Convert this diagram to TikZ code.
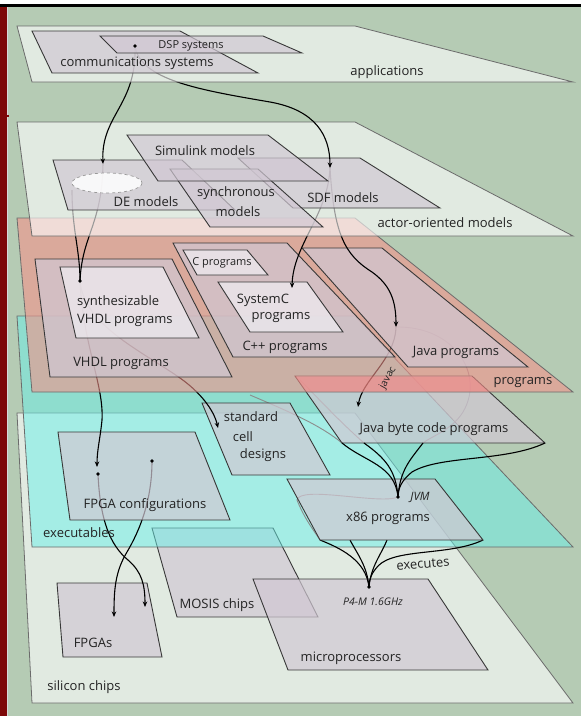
\documentclass[tikz,border=0pt]{standalone}
\usepackage{fontspec}
\setmainfont{Open Sans}
\usetikzlibrary{arrows.meta}

\definecolor{bggreen}{RGB}{181,203,180}
\definecolor{planepink}{RGB}{243,147,139}
\definecolor{planecyan}{RGB}{105,240,233}
\definecolor{boxgray}{RGB}{209,200,211}
\definecolor{boxlight}{RGB}{238,235,240}
\definecolor{salmon}{RGB}{240,120,120}
\definecolor{ink}{RGB}{35,35,35}
\definecolor{framered}{RGB}{125,8,8}

\tikzset{
  plane/.style={draw=black!58, line width=0.8pt},
  lightplane/.style={plane, fill=white, fill opacity=0.6},
  pinkplane/.style={plane, fill=planepink, fill opacity=0.6},
  cyanplane/.style={plane, fill=planecyan, fill opacity=0.5},
  box/.style={draw=black!78, line width=0.9pt, fill=boxgray, fill opacity=0.7},
  innerbox/.style={box, fill=boxlight, fill opacity=0.75},
  conn/.style={line width=1.1pt, draw=black},
  faint/.style={line width=0.9pt, draw=black!45},
  tip/.style={-{Stealth[length=5.5pt,width=4.5pt]}},
  lbl/.style={text=ink, inner sep=0pt, font=\fontsize{13}{15}\selectfont},
  smalllbl/.style={lbl, font=\fontsize{11}{13}\selectfont},
  itlbl/.style={lbl, font=\fontsize{11.5}{13}\selectfont\itshape},
}

\begin{document}
\begin{tikzpicture}[x=1pt, y=-1pt]
\useasboundingbox (0,0) rectangle (581,716);

% frame and backdrop
\fill[white] (0,0) rectangle (581,4);
\fill[bggreen] (0,7) rectangle (581,716);
\fill[black] (0,4) rectangle (581,7);
\fill[framered] (0,7) rectangle (7,716);
\fill[black!15] (7,7) rectangle (8.2,716);
\fill[framered] (0,114.5) rectangle (9,117);

% connector end points
\coordinate (dsp) at (135,46);
\coordinate (deTip) at (103,164);
\coordinate (deEll) at (72,190);
\coordinate (sdfTip) at (330,168);
\coordinate (synthDot) at (80,281);
\coordinate (scTip) at (292,288);
\coordinate (javaTip) at (396,327);
\coordinate (bcTip) at (358,407);
\coordinate (sdTip) at (218,428);
\coordinate (fcTip) at (97,467);
\coordinate (fcDotA) at (98,474);
\coordinate (fcDotB) at (152,461);
\coordinate (fpgaTipA) at (145,607);
\coordinate (fpgaTipB) at (114,617);
\coordinate (jvm) at (398,497);
\coordinate (p4) at (369,587);
\coordinate (bcA) at (342,443);
\coordinate (bcB) at (364,443);
\coordinate (bcC) at (423,443);
\coordinate (bcD) at (545,443);
\coordinate (xA) at (320,540);
\coordinate (xB) at (350,540);
\coordinate (xC) at (387,540);
\coordinate (xD) at (483,540);

% ---------------- silicon chips ----------------
\draw[lightplane] (17,413) -- (355,413) -- (573,703) -- (32,703) -- cycle;
\draw[box] (57,583) -- (147,583) -- (162,657) -- (63,657) -- cycle;
\draw[box] (152,528) -- (273,528) -- (318,617) -- (177,617) -- cycle;
\draw[box] (253,579) -- (428,579) -- (488,670) -- (288,670) -- cycle;

% ---------------- executables ----------------
\draw[cyanplane] (17,316) -- (355,316) -- (573,547) -- (32,547) -- cycle;

% FPGA configurations onto FPGAs
\draw[conn,tip] (fcDotA) .. controls (100,520) and (110,545) .. (128,560)
   .. controls (142,572) and (145,585) .. (fpgaTipA);
\draw[conn,tip] (fcDotB) .. controls (152,500) and (140,530) .. (127,552)
   .. controls (115,572) and (114,590) .. (fpgaTipB);

% x86 programs onto the processor
\draw[conn] (xA) .. controls (340,548) and (366,560) .. (p4);
\draw[conn] (xB) .. controls (358,555) and (367,566) .. (p4);
\draw[conn] (xC) .. controls (381,555) and (371,566) .. (p4);
\draw[conn] (xD) .. controls (450,556) and (395,548) .. (378,566)
   .. controls (372,573) and (369,578) .. (p4);

% faint paths through the byte code layer
\draw[faint] (javaTip) .. controls (455,326) and (485,375) .. (463,412)
   .. controls (452,430) and (430,437) .. (bcC);
\draw[faint] (250,395) .. controls (290,412) and (320,425) .. (bcA);
\draw[faint] (300,380) .. controls (320,400) and (338,420) .. (bcB);
\draw[faint] (jvm) .. controls (380,505) and (300,485) .. (297,500)
   .. controls (305,520) and (315,532) .. (xA);

\draw[box] (58,432) -- (195,432) -- (230,520) -- (70,520) -- cycle;
\draw[box] (202,403) -- (290,403) -- (330,475) -- (232,475) -- cycle;
\draw[box] (295,376) -- (472,376) -- (545,443) -- (342,443) -- cycle;
\draw[box] (287,479) -- (435,479) -- (483,540) -- (320,540) -- cycle;

% byte code into the JVM
\draw[conn] (bcA) .. controls (365,462) and (395,465) .. (jvm);
\draw[conn] (bcB) .. controls (385,458) and (396,470) .. (jvm);
\draw[conn] (bcC) .. controls (410,460) and (400,470) .. (jvm);
\draw[conn] (bcD) .. controls (505,462) and (440,455) .. (412,472)
   .. controls (402,480) and (398,488) .. (jvm);

% programs down to executables
\draw[conn,tip] (synthDot) .. controls (83,345) and (104,385) .. (102,420)
   .. controls (100,440) and (97,450) .. (fcTip);
\draw[conn,tip] (synthDot) .. controls (84,325) and (140,350) .. (180,378)
   .. controls (200,392) and (214,410) .. (sdTip);
\draw[conn,tip] (javaTip) .. controls (395,360) and (362,380) .. (bcTip);

% ---------------- programs ----------------
\draw[pinkplane] (17,218) -- (355,218) -- (573,392) -- (32,392) -- cycle;
% upper strip of the byte code box seen through the programs layer
\fill[salmon, fill opacity=0.35] (295.5,376.5) -- (471.7,376.5) -- (488.5,391.6) -- (306.6,391.6) -- cycle;
\draw[box] (35,259) -- (172,259) -- (232,377) -- (50,377) -- cycle;
\draw[innerbox] (60,267) -- (163,267) -- (199,338) -- (76,338) -- cycle;
\draw[box] (173,243) -- (287,243) -- (395,357) -- (233,357) -- cycle;
\draw[innerbox] (183,250) -- (247,250) -- (268,275) -- (197,275) -- cycle;
\draw[innerbox] (218,282) -- (307,282) -- (343,332) -- (250,332) -- cycle;
\draw[box] (302,248) -- (382,248) -- (528,367) -- (408,367) -- cycle;

% actor-oriented models down to programs
\draw[conn] (deEll) .. controls (72,230) and (80,250) .. (synthDot);
\draw[conn] (deTip) .. controls (102,225) and (82,235) .. (synthDot);
\draw[conn,tip] (sdfTip) .. controls (328,215) and (293,245) .. (scTip);
\draw[conn,tip] (sdfTip) .. controls (334,235) and (345,255) .. (372,272)
   .. controls (390,285) and (396,300) .. (javaTip);

% ---------------- actor-oriented models ----------------
\draw[lightplane] (17,122) -- (355,122) -- (573,236) -- (32,236) -- cycle;
\draw[box] (53,160) -- (182,160) -- (235,210) -- (68,210) -- cycle;
\draw[box] (238,158) -- (360,158) -- (440,208) -- (293,208) -- cycle;
\draw[box] (170,169) -- (258,169) -- (323,227) -- (210,227) -- cycle;
\draw[box] (127,135) -- (268,135) -- (328,181) -- (158,181) -- cycle;
\draw[draw=black!40, dashed, line width=0.7pt, fill=white, fill opacity=0.85]
   (107,183) ellipse [x radius=35, y radius=10];

% applications down to actor-oriented models
\draw[conn,tip] (dsp) .. controls (137,105) and (101,115) .. (deTip);
\draw[conn,tip] (dsp) .. controls (140,80) and (200,90) .. (270,102)
   .. controls (315,110) and (330,135) .. (sdfTip);

% ---------------- applications ----------------
\draw[lightplane] (17,26) -- (355,26) -- (573,82) -- (32,82) -- cycle;
\draw[box] (32,31) -- (180,31) -- (258,73) -- (52,73) -- cycle;
\draw[box] (100,36) -- (263,36) -- (302,53) -- (117,53) -- cycle;

% dots
\foreach \p in {dsp, synthDot, fcDotA, fcDotB, jvm, p4}
  \fill[black] (\p) circle (1.9pt);

% labels
\node[smalllbl] (tDsp) at (191,46) {DSP systems};
\node[lbl] (tComm) at (137,63) {communications systems};
\node[lbl] (tApp) at (387,72) {applications};
\node[lbl] (tSim) at (205,151) {Simulink models};
\node[lbl] (tDE) at (146,202) {DE models};
\node[lbl] (tSync1) at (236,193) {synchronous};
\node[lbl] (tSync2) at (238,212) {models};
\node[lbl] (tSDF) at (343,198) {SDF models};
\node[lbl] (tActor) at (445,223) {actor-oriented models};
\node[lbl, anchor=west] (tSyn1) at (77,302) {synthesizable};
\node[lbl, anchor=west] (tSyn2) at (77,320) {VHDL programs};
\node[lbl] (tVHDL) at (121,363) {VHDL programs};
\node[smalllbl] (tC) at (222,263) {C programs};
\node[lbl] (tSC1) at (263,300) {SystemC};
\node[lbl] (tSC2) at (281,318) {programs};
\node[lbl] (tCpp) at (285,347) {C++ programs};
\node[lbl] (tJava) at (456,352) {Java programs};
\node[lbl] (tProg) at (523,383) {programs};
\node[smalllbl, font=\fontsize{10}{12}\selectfont, rotate=61] (tJavac) at (388,378) {javac};
\node[lbl] (tStd1) at (251,417) {standard};
\node[lbl] (tStd2) at (243,437) {cell};
\node[lbl] (tStd3) at (263,455) {designs};
\node[lbl] (tBC) at (434,429) {Java byte code programs};
\node[lbl] (tFC) at (145,505) {FPGA configurations};
\node[itlbl] (tJVM) at (420,497) {JVM};
\node[lbl] (tX86) at (388,518) {x86 programs};
\node[lbl] (tExe) at (79,533) {executables};
\node[lbl, rotate=5] (tExec) at (423,564) {executes};
\node[itlbl, font=\fontsize{10.5}{12}\selectfont\itshape] (tP4) at (373,602) {P4-M 1.6GHz};
\node[lbl] (tMOSIS) at (217,605) {MOSIS chips};
\node[lbl] (tMicro) at (351,658) {microprocessors};
\node[lbl] (tFPGA) at (93,643) {FPGAs};
\node[lbl] (tSil) at (84,687) {silicon chips};
\end{tikzpicture}
\end{document}
